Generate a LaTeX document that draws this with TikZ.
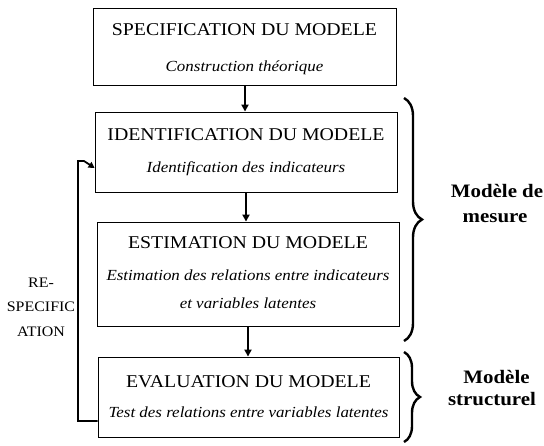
\documentclass[tikz,border=0pt]{standalone}
\usepackage{fontspec}
\setmainfont[FakeStretch=1.1]{Liberation Serif}
\usetikzlibrary{arrows.meta,decorations.pathreplacing}
\begin{document}
\begin{tikzpicture}[x=1pt,y=-1pt,
  stage/.style={draw=black,line width=0.9pt,inner sep=0pt,anchor=center},
  ttl/.style={font=\fontsize{18}{18}\selectfont,inner sep=0pt,anchor=base},
  sub/.style={font=\fontsize{15.4}{15.4}\selectfont\itshape,inner sep=0pt,anchor=base},
  flow/.style={line width=1.8pt,-{Triangle[length=7pt,width=7pt]}},
  grp/.style={line width=2.4pt,decorate,decoration={brace,amplitude=18pt,raise=0pt}},
  grplbl/.style={font=\fontsize{19}{19}\selectfont\bfseries,inner sep=0pt,anchor=base},
  side/.style={font=\fontsize{14.5}{14.5}\selectfont,inner sep=0pt,anchor=base}]
\useasboundingbox (0,0) rectangle (544,445);
\fill[white] (0,0) rectangle (544,445);

% stage boxes
\node[stage,minimum width=303pt,minimum height=77pt] (spec) at (244.5,46.5) {};
\node[stage,minimum width=302pt,minimum height=80pt] (ident) at (246,152) {};
\node[stage,minimum width=302pt,minimum height=104pt] (estim) at (248,274) {};
\node[stage,minimum width=301pt,minimum height=80pt] (eval) at (248.5,397) {};

% box texts
\node[ttl] (t1) at (244.5,35) {SPECIFICATION DU MODELE};
\node[sub] (s1) at (244.5,71) {Construction théorique};
\node[ttl] (t2) at (246,140) {IDENTIFICATION DU MODELE};
\node[sub] (s2) at (246,172) {Identification des indicateurs};
\node[ttl] (t3) at (248,248) {ESTIMATION DU MODELE};
\node[sub] (s3) at (248,280) {Estimation des relations entre indicateurs};
\node[sub] (s3b) at (248,308) {et variables latentes};
\node[ttl] (t4) at (248.5,387) {EVALUATION DU MODELE};
\node[sub] (s4) at (248.5,417) {Test des relations entre variables latentes};

% forward flow
\draw[flow] (spec.south -| 245,0) -- (ident.north -| 245,0);
\draw[flow] (ident.south -| 246,0) -- (estim.north -| 246,0);
\draw[flow] (estim.south -| 248,0) -- (eval.north -| 248,0);

% re-specification loop
\coordinate (lb) at (78,421);
\coordinate (lt) at (78,161);
\draw[line width=1.8pt,-{Triangle[length=6pt,width=6.5pt]}]
  (eval.west |- lb) -- (lb) -- (lt) -- ++(6,0) -- (ident.west |- 0,168);
\node[side] (r1) at (41,287) {RE-};
\node[side] (r2) at (41,311) {SPECIFIC};
\node[side] (r3) at (41,336) {ATION};

% group braces
\coordinate (b1a) at (404,98);
\coordinate (b1b) at (404,341);
\coordinate (b2a) at (404,352);
\coordinate (b2b) at (404,442);
\draw[grp] (b1a) -- (b1b);
\draw[grp,decoration={brace,amplitude=16pt}] (b2a) -- (b2b);
\node[grplbl] (g1) at (497,197) {Modèle de};
\node[grplbl] (g1b) at (495,222) {mesure};
\node[grplbl] (g2) at (496.5,383) {Modèle};
\node[grplbl] (g2b) at (492,405) {structurel};
\end{tikzpicture}
\end{document}
